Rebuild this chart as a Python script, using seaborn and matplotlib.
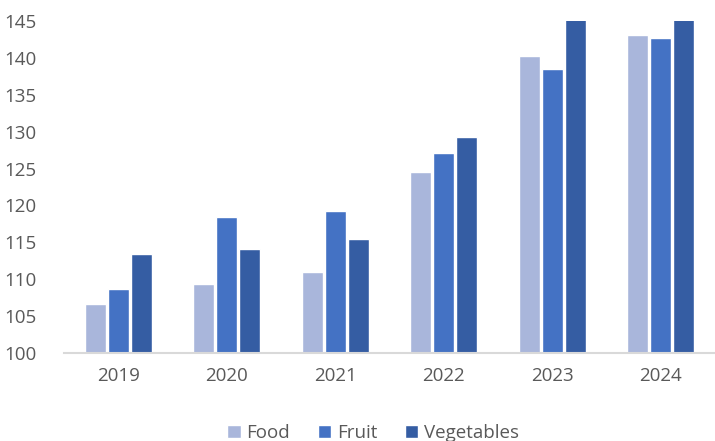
import matplotlib
matplotlib.use("Agg")
import matplotlib.pyplot as plt
import seaborn as sns
import pandas as pd

years = ["2019", "2020", "2021", "2022", "2023", "2024"]
food = [106.6, 109.3, 111.0, 124.5, 140.3, 143.1]
fruit = [108.6, 118.4, 119.2, 127.1, 138.5, 142.7]
vegetables = [113.4, 114.1, 115.5, 129.3, 147.0, 148.0]
series = ["Food", "Fruit", "Vegetables"]
colors = ["#A9B6DB", "#4472C4", "#355DA3"]

df = pd.DataFrame({
    "Year": years * 3,
    "Value": food + fruit + vegetables,
    "Series": [s for s in series for _ in years],
})

sns.set_theme(style="white")
plt.rcParams["font.family"] = ["Open Sans", "DejaVu Sans"]

fig = plt.figure(figsize=(7.15, 4.41), dpi=100)
ax = fig.add_axes([0.0895, 0.200, 0.9105, 0.752])

sns.barplot(data=df, x="Year", y="Value", hue="Series", palette=colors,
            width=0.64, gap=0.09, ax=ax, saturation=1, legend=True)

ax.set_ylim(100, 145)
ax.set_yticks(range(100, 146, 5))
ax.set_xlim(-0.5, 5.5)
ax.set_xlabel("")
ax.set_ylabel("")
for s in ["top", "right", "left"]:
    ax.spines[s].set_visible(False)
ax.spines["bottom"].set_color("#D9D9D9")
ax.spines["bottom"].set_linewidth(1.5)
ax.tick_params(axis="both", length=0, labelsize=13.5, labelcolor="#595959")
ax.tick_params(axis="x", pad=10)
ax.tick_params(axis="y", pad=20)

handles, labels = ax.get_legend_handles_labels()
ax.legend_.remove()
fig.legend(handles, labels, loc="lower center", bbox_to_anchor=(0.522, -0.04),
           ncol=3, frameon=False, fontsize=13.5, handlelength=0.7, handleheight=0.7,
           handletextpad=0.3, columnspacing=1.5, labelcolor="#595959")

fig.savefig("out.png", dpi=100)
